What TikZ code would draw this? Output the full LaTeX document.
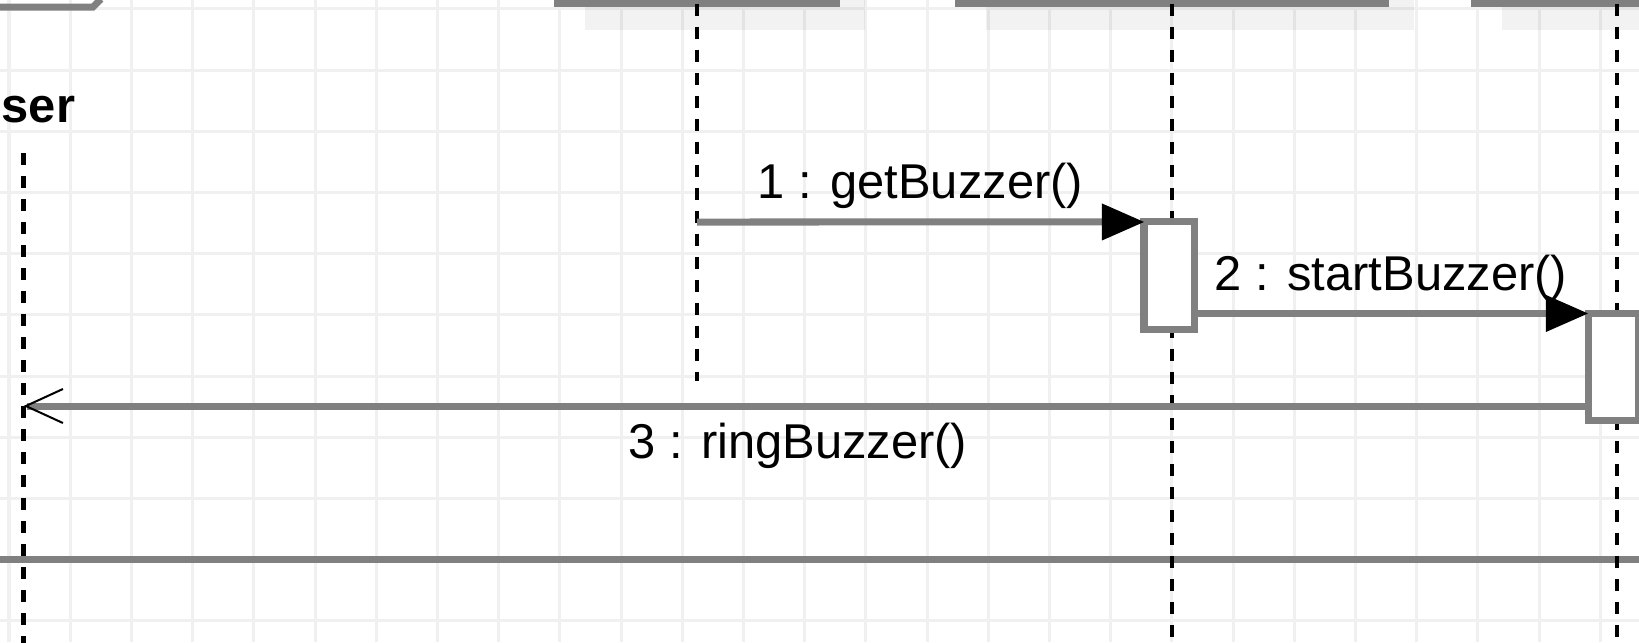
\documentclass[tikz,border=0pt]{standalone}
\usepackage{fontspec}
\setmainfont{Liberation Sans}
\usepackage{tikz}
\usetikzlibrary{positioning,arrows.meta,shadows}
\definecolor{gridgray}{HTML}{F0F0F0}
\definecolor{linegray}{HTML}{808080}

\begin{document}
\begin{tikzpicture}[x=0.01cm,y=-0.01cm,
	font=\fontsize{13.9pt}{16pt}\selectfont,
	gridline/.style={gridgray,line width=0.03cm},
	head/.style={draw=linegray,fill=white,line width=0.065cm,minimum height=1.03cm,inner sep=0pt,outer sep=0pt,
		drop shadow={shadow xshift=0.28cm,shadow yshift=-0.26cm,fill=black,opacity=.05}},
	act/.style={draw=linegray,fill=white,line width=0.07cm,minimum width=0.5cm,minimum height=1.07cm,inner sep=0pt,outer sep=0pt},
	lifeline/.style={line width=0.04cm,dash pattern=on 0.12cm off 0.11cm},
	msgline/.style={linegray,line width=0.07cm},
	call/.style={msgline,-{Triangle[length=0.42cm,width=0.37cm,color=black,line width=0pt]}},
	reply/.style={msgline,-{Straight Barb[length=0.37cm,width=0.34cm,color=black,line width=0.02cm]}},
	msgtext/.style={anchor=base,inner sep=0pt,text=black}]
	\path[use as bounding box,fill=white] (0,0) rectangle (1639,642);
	\foreach \i in {0,...,26}
		\draw[gridline] ({9+61.2*\i},0) -- ({9+61.2*\i},642);
	\foreach \j in {0,...,10}
		\draw[gridline] (0,{8.8+61.2*\j}) -- (1639,{8.8+61.2*\j});
	\node[head,minimum width=2.8cm] (ctl) at (697,-48) {};
	\node[head,minimum width=4.28cm] (mgr) at (1172,-48) {};
	\node[head,minimum width=2.86cm] (bzr) at (1617,-48) {};
	\draw[msgline] (-10,7) -- (93,7) -- (101,-1);
	\coordinate (fl) at (-10,559);
	\coordinate (fr) at (1650,559);
	\draw[msgline] (fl) -- (fr);
	\node[font=\fontsize{13.9pt}{16pt}\selectfont\bfseries,anchor=base west,inner sep=0pt] (usr) at (1,122) {ser};
	\coordinate (usrtop) at (23.5,153);
	\coordinate (usrend) at (23.5,650);
	\coordinate (ctlend) at (697,381);
	\coordinate (mgrend) at (1172,650);
	\coordinate (bzrend) at (1617,650);
	\draw[lifeline] (usrtop) -- (usrend);
	\draw[lifeline] (ctl) -- (ctlend);
	\draw[lifeline] (mgr) -- (mgrend);
	\draw[lifeline] (bzr) -- (bzrend);
	\node[act] (a1) at (1169,275.5) {};
	\node[act] (a2) at (1613,367) {};
	\coordinate (m1) at (697,222);
	\coordinate (u3) at (23.5,406);
	\path
		(m1) edge[call] node[msgtext,midway,yshift=0.235cm] {1 : getBuzzer()} (a1.north west)
		(a1.east |- a2.north) edge[call] node[msgtext,midway,yshift=0.233cm] {2 : startBuzzer()} (a2.north west)
		(a2.west |- u3) edge[reply] node[msgtext,pos=.505,yshift=-0.523cm] {3 : ringBuzzer()} (u3);
\end{tikzpicture}
\end{document}
